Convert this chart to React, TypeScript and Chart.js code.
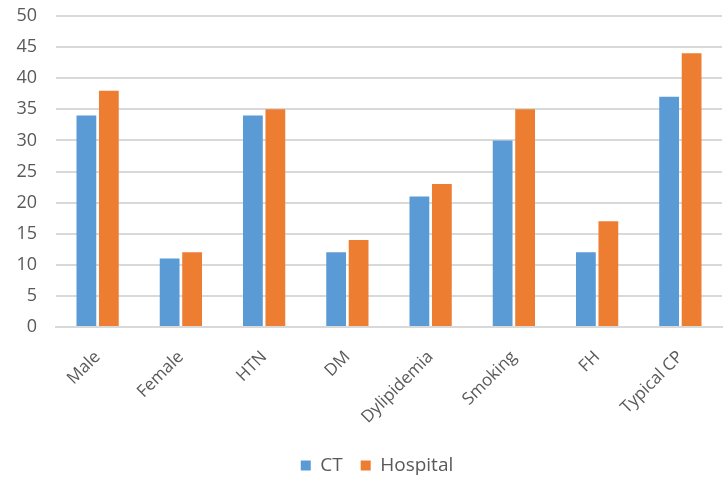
import React, { useEffect, useRef } from "react";
import { Chart, registerables } from "chart.js";

Chart.register(...registerables);

const categories = ["Male", "Female", "HTN", "DM", "Dylipidemia", "Smoking", "FH", "Typical CP"];
const ctValues = [34, 11, 34, 12, 21, 30, 12, 37];
const hospitalValues = [38, 12, 35, 14, 23, 35, 17, 44];
const seriesNames = ["CT", "Hospital"];

const legendShift = {
  id: "legendShift",
  afterLayout(chart: any) {
    if (chart.legend) {
      chart.legend.left += 16;
      chart.legend.right += 16;
    }
  },
};

export default function App() {
  const ref = useRef<HTMLCanvasElement | null>(null);
  useEffect(() => {
    document.body.style.margin = "0";
    const font = "'Open Sans', 'Noto Sans', sans-serif";
    const chart = new Chart(ref.current!, {
      type: "bar",
      data: {
        labels: categories,
        datasets: [
          {
            label: seriesNames[0],
            data: ctValues,
            backgroundColor: "#5B9BD5",
            borderWidth: 0,
            categoryPercentage: 0.54,
            barPercentage: 0.88,
          },
          {
            label: seriesNames[1],
            data: hospitalValues,
            backgroundColor: "#ED7D31",
            borderWidth: 0,
            categoryPercentage: 0.54,
            barPercentage: 0.88,
          },
        ],
      },
      plugins: [legendShift],
      options: {
        animation: false,
        responsive: false,
        maintainAspectRatio: false,
        layout: { padding: { left: 0, right: 2, top: 16, bottom: -6 } },
        plugins: {
          tooltip: { enabled: false },
          legend: {
            position: "bottom",
            labels: {
              boxWidth: 10,
              boxHeight: 10,
              color: "#595959",
              font: { family: font, size: 19 },
              padding: 18,
            },
          },
        },
        scales: {
          x: {
            grid: { display: false, drawTicks: false },
            border: { display: true, color: "#d9d9d9", width: 2 },
            ticks: {
              minRotation: 45,
              maxRotation: 45,
              color: "#595959",
              font: { family: font, size: 17 },
              padding: 20,
            },
            afterFit: (scale: any) => {
              scale.paddingLeft = 0;
              scale.paddingRight = 0;
              scale.height = 111;
            },
          },
          y: {
            min: 0,
            max: 50,
            ticks: {
              stepSize: 5,
              color: "#595959",
              font: { family: font, size: 18 },
              padding: 19,
            },
            grid: { color: "#d9d9d9", lineWidth: 2, drawTicks: false },
            border: { display: false },
            afterFit: (scale: any) => {
              scale.width = 56;
              scale.paddingTop = 0;
              scale.paddingBottom = 0;
            },
          },
        },
      },
    });
    return () => chart.destroy();
  }, []);
  return <canvas ref={ref} width={724} height={479} style={{ display: "block" }} />;
}
